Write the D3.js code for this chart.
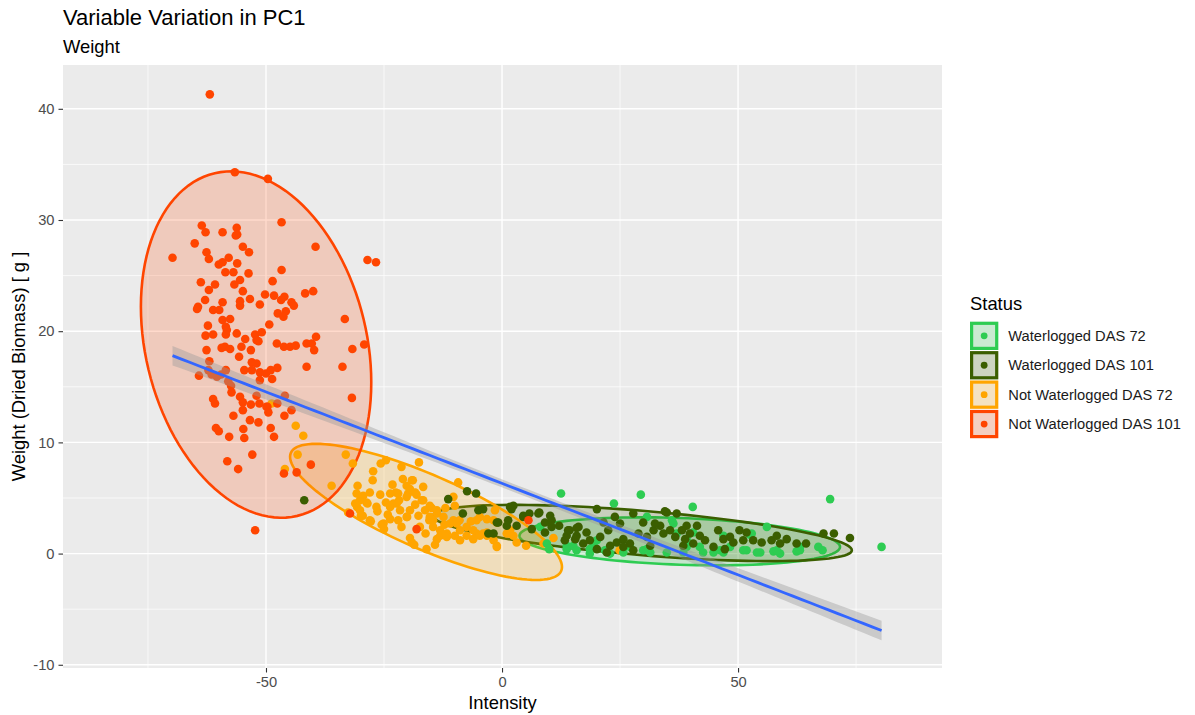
<!DOCTYPE html>
<html>
<head>
<meta charset="utf-8">
<script src="https://cdnjs.cloudflare.com/ajax/libs/d3/7.8.5/d3.min.js"></script>
<style>
body { margin: 0; background: #fff; }
text { font-family: "Liberation Sans", Arial, sans-serif; }
</style>
</head>
<body>
<div id="grafica"></div>
<script>
// datos: [Intensity, Weight]
var wl72 = [[12.5,5.4],[29.4,5.3],[23.7,4.5],[8.1,2.4],[9.5,0.9],[10.0,0.4],[13.7,0.4],[15.1,0.7],[18.6,0.0],[20.1,1.2],
  [22.9,0.0],[25.7,0.1],[27.1,0.6],[29.9,0.3],[31.4,0.1],[30.7,3.3],[36.3,2.7],[37.0,1.8],[39.1,0.6],[19.4,0.9],
  [40.4,4.2],[69.5,4.9],[80.4,0.6],[56.1,2.4],[52.9,1.8],[67.0,0.6],[67.9,0.3],[48.3,0.6],[51.8,0.3],[54.7,0.1],
  [57.5,0.2],[58.9,0.0],[62.4,0.2],[39.1,1.3],[41.9,0.6],[44.8,0.1],[46.2,0.3],[63.1,0.6],[36.0,3.0],[13.7,0.7],
  [15.8,0.3],[18.6,0.4],[21.8,0.3],[30.7,0.4],[34.9,0.1],[38.4,0.1],[42.6,0.1],[46.9,0.1],[51.1,0.3],[54.0,0.1],
  [58.2,0.3],[63.1,0.3],[40.5,1.9],[46.9,1.6],[52.5,1.7]];

var wl101 = [[-41.9,4.8],[-7.4,5.6],[-5.5,5.4],[-11.4,4.9],[-8.3,3.6],[-5.0,3.9],[-4.0,4.0],[-2.9,1.8],[-1.1,2.8],[1.3,3.0],
  [1.7,4.2],[2.0,4.0],[-0.8,2.8],[-1.8,1.8],[3.1,2.5],[4.5,3.3],[6.3,2.2],[7.9,3.7],[9.1,1.9],[10.2,3.4],
  [10.5,2.4],[14.0,2.1],[13.3,1.2],[15.8,1.6],[16.2,2.4],[17.9,1.9],[18.6,1.2],[17.2,0.9],[20.1,4.0],[21.5,2.8],
  [20.8,1.5],[22.5,2.1],[22.9,0.7],[22.2,0.1],[23.9,3.3],[25.0,2.7],[25.7,1.3],[27.1,0.9],[25.7,0.6],[24.3,1.0],
  [27.8,3.6],[29.9,2.8],[28.9,1.8],[30.7,1.5],[31.4,0.7],[32.1,2.1],[33.5,2.5],[34.2,1.8],[32.4,2.7],[34.9,3.7],
  [37.0,3.6],[35.6,2.1],[36.7,1.5],[38.1,2.1],[39.1,2.5],[38.4,0.7],[27.8,0.3],[20.1,0.4],[41.3,2.5],[39.8,1.8],
  [38.8,1.3],[41.9,1.6],[40.5,0.9],[43.0,1.2],[45.8,2.1],[46.9,1.3],[44.8,0.6],[47.2,0.4],[49.0,1.0],[50.3,2.1],
  [51.1,1.2],[53.2,1.2],[55.0,1.0],[57.1,1.2],[58.2,1.6],[58.9,0.9],[60.3,1.3],[62.4,0.9],[64.4,0.9],[68.1,1.8],
  [70.3,1.8],[73.7,1.4],[51.8,1.9],[48.3,1.5],[34.5,3.8],[4.5,3.4],[5.8,3.6],[7.7,3.6],[9.1,2.8],[10.5,3.0],
  [12.1,2.5],[13.7,1.6],[14.3,2.1],[15.5,1.3],[15.8,2.3],[1.0,2.5],[2.4,4.3]];

var nwl72 = [[-48.8,13.5],[-43.7,11.5],[-42.1,10.6],[-43.3,8.9],[-46.0,7.6],[-36.1,6.1],[-33.1,8.9],[-31.6,8.1],[-25.7,8.1],[-24.6,8.4],
  [-21.3,7.8],[-17.6,8.2],[-27.3,7.4],[-18.9,6.6],[-20.2,6.1],[-30.6,6.1],[-9.3,6.4],[-28.0,5.5],[-29.4,5.2],[-30.1,4.8],
  [-28.5,4.5],[-30.7,4.2],[-25.8,5.3],[-23.7,5.4],[-22.5,5.5],[-24.6,4.6],[-22.3,4.5],[-19.9,5.4],[-18.1,5.3],[-16.7,4.8],
  [-18.4,4.4],[-19.5,3.9],[-29.9,3.4],[-27.8,2.9],[-25.5,2.6],[-25.0,2.2],[-23.7,3.1],[-22.0,3.0],[-20.1,3.3],[-21.3,2.4],
  [-19.5,1.4],[-18.6,0.8],[-16.0,0.4],[-14.9,4.1],[-13.8,3.6],[-12.4,3.3],[-15.4,3.0],[-14.6,2.4],[-13.1,2.1],[-11.7,1.8],
  [-13.8,1.3],[-10.3,3.0],[-8.9,2.1],[-7.5,1.6],[-5.4,1.8],[-3.2,1.6],[-4.7,3.3],[-1.8,3.0],[-1.1,0.6],[-10.3,5.1],
  [-10.0,4.3],[-1.5,3.9],[1.7,2.1],[2.4,1.6],[3.1,1.0],[5.1,0.7],[10.9,1.4],[8.8,0.9],[-8.9,1.2],[-6.1,1.3],
  [-4.0,1.8],[-27.4,6.6],[-30.8,5.4],[-28.7,4.6],[-31.1,4.5],[-30.1,3.9],[-32.6,3.7],[-29.5,3.4],[-28.0,3.0],[-25.1,2.7],
  [-23.0,4.5],[-22.0,5.4],[-19.5,5.8],[-20.2,5.1],[-19.1,6.6],[-23.7,4.2],[-21.6,3.9],[-20.2,3.3],[-17.7,3.4],[-16.3,3.9],
  [-15.3,3.3],[-19.1,1.0],[-17.0,4.8],[-15.3,4.3],[-13.8,3.9],[-14.6,3.0],[-11.0,2.7],[-13.1,1.6],[-11.7,1.5],[-10.0,1.6],
  [-9.6,2.7],[-7.5,2.4],[-6.1,2.1],[-4.7,1.6],[-3.2,1.9],[-1.8,1.2],[-5.4,3.0],[-3.2,3.1],[-1.1,2.8],[-1.1,0.7],
  [1.0,1.8],[-16.7,6.0],[-18.4,5.5],[24.9,0.3],[1.7,1.8],[-26.4,3.8],[-24.2,3.5],[-21.8,4.8],[-17.4,2.4],[-16.2,1.8],
  [-12.2,2.6],[-9.0,3.0],[-6.6,2.9],[-14.2,0.8],[-12.0,4.1],[-26.6,4.2],[-23.2,6.2],[-21.0,6.7]];

var nwl101 = [[-61.9,41.3],[-56.6,34.3],[-49.6,33.7],[-46.7,29.8],[-39.5,27.6],[-28.5,26.4],[-26.7,26.2],[-69.8,26.6],[-63.6,29.5],[-62.8,28.9],
  [-59.2,28.9],[-56.2,29.3],[-56.1,28.7],[-56.4,28.6],[-65.1,27.9],[-62.6,27.1],[-62.1,26.5],[-54.9,27.6],[-53.6,27.1],[-57.9,26.6],
  [-59.2,26.2],[-60.0,26.0],[-56.1,26.1],[-46.7,25.5],[-58.6,25.3],[-56.9,25.3],[-53.7,25.2],[-63.8,24.4],[-60.8,24.2],[-62.1,23.7],
  [-55.5,24.6],[-56.7,24.2],[-48.6,24.5],[-54.9,23.6],[-50.2,23.3],[-48.3,23.2],[-46.1,23.1],[-41.7,23.4],[-40.0,23.6],[-62.9,22.8],
  [-64.4,22.2],[-64.6,22.0],[-59.2,22.6],[-61.2,21.9],[-59.9,21.9],[-55.5,22.7],[-53.4,22.9],[-55.5,22.3],[-51.3,22.4],[-46.8,22.8],
  [-44.6,22.6],[-44.1,22.3],[-47.5,21.6],[-45.8,21.8],[-46.3,21.3],[-33.3,21.1],[-62.3,20.5],[-57.6,21.1],[-59.2,21.0],[-58.5,20.4],
  [-49.3,20.6],[-62.8,19.6],[-61.2,19.7],[-58.3,20.1],[-58.5,19.7],[-56.2,19.8],[-54.4,19.3],[-55.2,18.6],[-53.2,18.3],[-52.3,19.7],
  [-50.9,19.9],[-52.0,19.2],[-51.6,19.1],[-59.4,18.5],[-58.7,18.6],[-57.6,18.4],[-62.6,18.3],[-55.7,17.7],[-47.7,18.9],[-46.2,18.6],
  [-44.9,18.6],[-43.7,18.7],[-41.4,18.9],[-40.3,18.9],[-39.8,18.3],[-39.4,19.5],[-31.7,18.4],[-29.2,18.8],[-62.0,17.3],[-64.2,16.0],
  [-53.0,17.2],[-52.0,17.1],[-53.0,16.5],[-54.6,16.5],[-51.3,16.3],[-50.0,16.2],[-49.0,16.5],[-47.6,16.7],[-48.7,15.7],[-51.3,15.6],
  [-41.4,16.8],[-33.8,16.8],[-62.2,16.5],[-61.5,16.1],[-60.4,15.9],[-59.5,16.1],[-58.5,16.5],[-58.0,15.5],[-57.3,14.5],[-57.4,15.1],
  [-55.5,14.1],[-61.2,13.9],[-60.8,13.5],[-54.9,13.6],[-53.2,13.4],[-52.0,14.2],[-51.4,13.5],[-49.9,13.2],[-47.6,13.5],[-46.0,14.2],
  [-31.8,14.0],[-56.9,12.4],[-54.9,12.9],[-53.4,12.0],[-51.6,11.8],[-49.7,13.2],[-49.5,12.7],[-46.1,12.4],[-44.6,12.9],[-49.0,11.3],
  [-48.3,10.5],[-60.6,11.3],[-60.0,11.0],[-57.8,10.5],[-54.8,11.2],[-54.6,10.4],[-52.9,8.9],[-58.2,8.3],[-55.9,7.6],[-46.2,7.2],
  [-43.5,7.3],[-40.5,8.0],[-52.3,2.1],[-32.2,3.6],[-18.1,2.2],[5.6,3.0]];

var statusNames = ["Waterlogged DAS 72", "Waterlogged DAS 101", "Not Waterlogged DAS 72", "Not Waterlogged DAS 101"];
var statusColors = ["#2ecc52", "#3b5e00", "#ffa500", "#ff4500"];
var groups = [wl72, wl101, nwl72, nwl101];

// elipses: punto extremo izquierdo, derecho y media altura vertical
var ellLeft = [[3.7,1.6], [-14.6,3.4], [-44.9,8.7], [-76.5,22.2]];
var ellRight = [[71.6,0.6], [74.1,0.3], [12.7,-1.2], [-27.7,15.4]];
var ellHalfH = [2.1, 2.0, 3.6, 15.2];

// recta ajustada (lm): extremos y semiancho de la banda
var fitStart = [-69.8, 17.8], fitEnd = [80.4, -6.92];
var bandCenterX = 5, bandMinHalf = 0.36, bandEndHalf = 0.88;

var xTicks = [-50, 0, 50], xMinor = [-75, -25, 25, 75];
var yTicks = [-10, 0, 10, 20, 30, 40], yMinor = [-5, 5, 15, 25, 35];

// dimensiones
var margin = {top: 65, right: 253, bottom: 47, left: 63},
width = 1195 - margin.left - margin.right,
height = 715 - margin.top - margin.bottom;

var svgRoot = d3.select("#grafica").append("svg")
.attr("width", 1195).attr("height", 715);

var svg = svgRoot.append("g")
.attr("transform", "translate(" + margin.left + "," + margin.top + ")");

var x = d3.scaleLinear().domain([-93, 93.2]).range([0, width]);
var y = d3.scaleLinear().domain([-10.29, 43.94]).range([height, 0]);

// panel
svg.append("rect").attr("width", width).attr("height", height).attr("fill", "#ebebeb");

svg.selectAll(".gxm").data(xMinor).enter().append("line")
.attr("x1", d => x(d)).attr("x2", d => x(d)).attr("y1", 0).attr("y2", height)
.attr("stroke", "#fff").attr("stroke-width", 0.7);
svg.selectAll(".gym").data(yMinor).enter().append("line")
.attr("y1", d => y(d)).attr("y2", d => y(d)).attr("x1", 0).attr("x2", width)
.attr("stroke", "#fff").attr("stroke-width", 0.7);
svg.selectAll(".gx").data(xTicks).enter().append("line")
.attr("x1", d => x(d)).attr("x2", d => x(d)).attr("y1", 0).attr("y2", height)
.attr("stroke", "#fff").attr("stroke-width", 1.4);
svg.selectAll(".gy").data(yTicks).enter().append("line")
.attr("y1", d => y(d)).attr("y2", d => y(d)).attr("x1", 0).attr("x2", width)
.attr("stroke", "#fff").attr("stroke-width", 1.4);

// elipses
var ang = d3.range(0, 361, 3).map(d => d * Math.PI / 180);
function ellipsePts(i) {
  var cx = (ellLeft[i][0] + ellRight[i][0]) / 2, cy = (ellLeft[i][1] + ellRight[i][1]) / 2;
  var ax = (ellRight[i][0] - ellLeft[i][0]) / 2, ay = (ellRight[i][1] - ellLeft[i][1]) / 2;
  return ang.map(t => [cx + ax * Math.cos(t), cy + ay * Math.cos(t) + ellHalfH[i] * Math.sin(t)]);
}
var ellLine = d3.line().x(d => x(d[0])).y(d => y(d[1]));
groups.forEach(function(g, i) {
  svg.append("path")
  .attr("d", ellLine(ellipsePts(i)) + "Z")
  .attr("fill", statusColors[i]).attr("fill-opacity", 0.2)
  .attr("stroke", statusColors[i]).attr("stroke-width", 2.6);
});

// puntos
[2, 0, 1, 3].forEach(function(i) {
  svg.selectAll(".p" + i).data(groups[i]).enter().append("circle")
  .attr("cx", d => x(d[0])).attr("cy", d => y(d[1])).attr("r", 4.3)
  .attr("fill", statusColors[i]);
});

// recta de regresion con banda de confianza
var slope = (fitEnd[1] - fitStart[1]) / (fitEnd[0] - fitStart[0]);
var dxMax = Math.max(bandCenterX - fitStart[0], fitEnd[0] - bandCenterX);
var kk = (bandEndHalf * bandEndHalf - bandMinHalf * bandMinHalf) / (dxMax * dxMax);
var fit = d3.range(0, 81).map(function(k) {
  var xv = fitStart[0] + (fitEnd[0] - fitStart[0]) * k / 80;
  var yv = fitStart[1] + slope * (xv - fitStart[0]);
  var hw = Math.sqrt(bandMinHalf * bandMinHalf + kk * (xv - bandCenterX) * (xv - bandCenterX));
  return {x: xv, y: yv, lo: yv - hw, hi: yv + hw};
});
svg.append("path").datum(fit)
.attr("d", d3.area().x(d => x(d.x)).y0(d => y(d.lo)).y1(d => y(d.hi)))
.attr("fill", "#999").attr("fill-opacity", 0.4);
svg.append("path").datum(fit)
.attr("d", d3.line().x(d => x(d.x)).y(d => y(d.y)))
.attr("fill", "none").attr("stroke", "#3366ff").attr("stroke-width", 2.8);

// ejes
var gx = svg.append("g").attr("transform", "translate(0," + height + ")")
.call(d3.axisBottom(x).tickValues(xTicks).tickFormat(d => String(d)).tickSize(4.5).tickPadding(4));
var gy = svg.append("g")
.call(d3.axisLeft(y).tickValues(yTicks).tickFormat(d => String(d)).tickSize(4.5).tickPadding(4));
[gx, gy].forEach(function(g) {
  g.select(".domain").remove();
  g.selectAll("line").attr("stroke", "#333").attr("stroke-width", 1.1);
  g.selectAll("text").attr("fill", "#4d4d4d").style("font-size", "14.7px")
  .style("font-family", "'Liberation Sans', Arial, sans-serif");
});

// titulos
svgRoot.append("text").attr("x", 63).attr("y", 25).style("font-size", "22px").attr("fill", "#000")
.text("Variable Variation in PC1");
svgRoot.append("text").attr("x", 63).attr("y", 52.5).style("font-size", "18.4px").attr("fill", "#000")
.text("Weight");
svgRoot.append("text").attr("x", margin.left + width / 2).attr("y", 709).attr("text-anchor", "middle")
.style("font-size", "18.4px").text("Intensity");
svgRoot.append("text").attr("transform", "translate(25," + (margin.top + height / 2) + ")rotate(-90)")
.attr("text-anchor", "middle").style("font-size", "18.4px").text("Weight (Dried Biomass) [ g ]");

// leyenda
var leg = svgRoot.append("g").attr("transform", "translate(970,0)");
leg.append("text").attr("x", 0).attr("y", 310).style("font-size", "18.4px").text("Status");
statusNames.forEach(function(name, i) {
  var ky = 321.7 + i * 29.4;
  leg.append("rect").attr("x", 0).attr("y", ky).attr("width", 28.3).attr("height", 28.3).attr("fill", "#f2f2f2");
  leg.append("rect").attr("x", 1.6).attr("y", ky + 1.6).attr("width", 25.1).attr("height", 25.1)
  .attr("fill", statusColors[i]).attr("fill-opacity", 0.2)
  .attr("stroke", statusColors[i]).attr("stroke-width", 3.2);
  leg.append("circle").attr("cx", 14.15).attr("cy", ky + 14.15).attr("r", 3.4).attr("fill", statusColors[i]);
  leg.append("text").attr("x", 38.3).attr("y", ky + 19.3).style("font-size", "14.7px").attr("fill", "#1a1a1a").text(name);
});
</script>
</body>
</html>
